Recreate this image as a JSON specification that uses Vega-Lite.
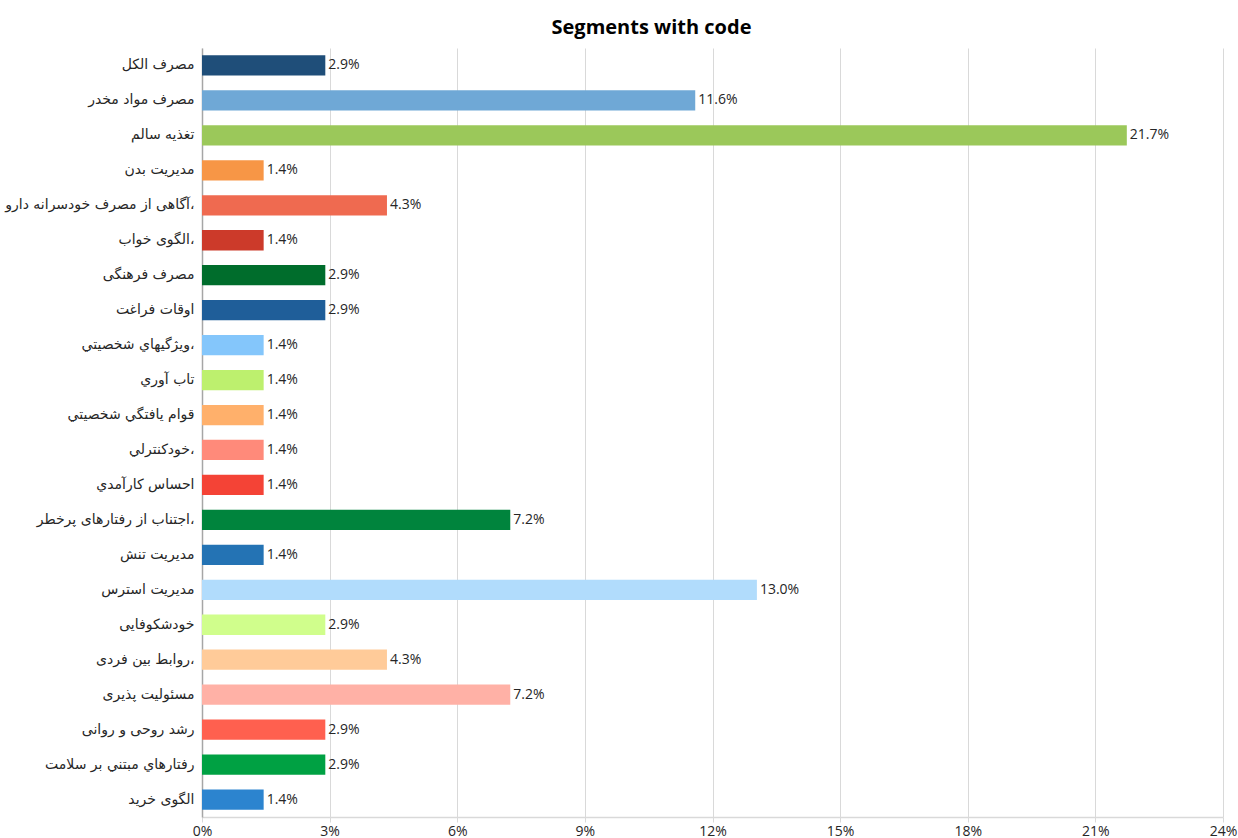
{
  "$schema": "https://vega.github.io/schema/vega-lite/v6.json",
  "autosize": {"type": "none"},
  "width": 1021,
  "height": 769,
  "padding": {"left": 202, "top": 48, "right": 15, "bottom": 21},
  "background": "white",
  "title": {"text": "Segments with code", "font": "Open Sans", "fontSize": 20, "fontWeight": "bold", "color": "#000000", "anchor": "middle", "dx": -61, "offset": 10},
  "data": {"values": [
    {"seg": "مصرف الکل", "v": 0.028986},
    {"seg": "مصرف مواد مخدر", "v": 0.115942},
    {"seg": "تغذیه سالم", "v": 0.217391},
    {"seg": "مدیریت بدن", "v": 0.014493},
    {"seg": "آگاهی از مصرف خودسرانه دارو،", "v": 0.043478},
    {"seg": "الگوی خواب،", "v": 0.014493},
    {"seg": "مصرف فرهنگی", "v": 0.028986},
    {"seg": "اوقات فراغت", "v": 0.028986},
    {"seg": "ويژگيهاي شخصيتي،", "v": 0.014493},
    {"seg": "تاب آوري", "v": 0.014493},
    {"seg": "قوام يافتگي شخصيتي", "v": 0.014493},
    {"seg": "خودكنترلي،", "v": 0.014493},
    {"seg": "احساس كارآمدي", "v": 0.014493},
    {"seg": "اجتناب از رفتارهای پرخطر،", "v": 0.072464},
    {"seg": "مدیریت تنش", "v": 0.014493},
    {"seg": "مدیریت استرس", "v": 0.130435},
    {"seg": "خودشکوفایی", "v": 0.028986},
    {"seg": "روابط بین فردی،", "v": 0.043478},
    {"seg": "مسئولیت پذیری", "v": 0.072464},
    {"seg": "رشد روحی و روانی", "v": 0.028986},
    {"seg": "رفتارهاي مبتني بر سلامت", "v": 0.028986},
    {"seg": "الگوی خرید", "v": 0.014493}
  ]},
  "encoding": {
    "y": {"field": "seg", "type": "nominal", "sort": null, "title": null,
      "scale": {"paddingInner": 0.42, "paddingOuter": 0.21},
      "axis": {"labelFont": "DejaVu Sans", "labelFontSize": 14, "labelColor": "#262626", "labelPadding": 8, "ticks": false, "domainColor": "#a6a6a6", "domainWidth": 1.5, "labelLimit": 300}},
    "x": {"field": "v", "type": "quantitative", "title": null,
      "scale": {"domain": [0, 0.24], "nice": false},
      "axis": {"values": [0, 0.03, 0.06, 0.09, 0.12, 0.15, 0.18, 0.21, 0.24], "format": ".0%", "labelFlush": false, "labelFont": "Open Sans", "labelFontSize": 14, "labelColor": "#262626", "grid": true, "gridColor": "#d9d9d9", "gridWidth": 1, "domainColor": "#d9d9d9", "domainWidth": 1.5, "tickColor": "#d9d9d9", "tickSize": 5, "labelPadding": 2}}
  },
  "layer": [
    {"mark": {"type": "bar"},
     "encoding": {"color": {"field": "seg", "type": "nominal", "legend": null,
       "scale": {"domain": ["مصرف الکل", "مصرف مواد مخدر", "تغذیه سالم", "مدیریت بدن", "آگاهی از مصرف خودسرانه دارو،", "الگوی خواب،", "مصرف فرهنگی", "اوقات فراغت", "ويژگيهاي شخصيتي،", "تاب آوري", "قوام يافتگي شخصيتي", "خودكنترلي،", "احساس كارآمدي", "اجتناب از رفتارهای پرخطر،", "مدیریت تنش", "مدیریت استرس", "خودشکوفایی", "روابط بین فردی،", "مسئولیت پذیری", "رشد روحی و روانی", "رفتارهاي مبتني بر سلامت", "الگوی خرید"],
        "range": ["#1f4e79", "#6fa8d6", "#9bc85a", "#f79646", "#ef6a50", "#cc3a2a", "#006d2c", "#1f5e99", "#84c6fb", "#bdf06e", "#ffb06b", "#ff8a7a", "#f44336", "#00843d", "#2473b4", "#b1dcfc", "#d0fe8c", "#ffcb99", "#ffb1a6", "#ff604f", "#00a143", "#2c84cf"]}}}},
    {"mark": {"type": "text", "align": "left", "dx": 3, "font": "Open Sans", "fontSize": 14, "color": "#262626"},
     "encoding": {"text": {"field": "v", "type": "quantitative", "format": ".1%"}}}
  ],
  "config": {"view": {"stroke": null}}
}
